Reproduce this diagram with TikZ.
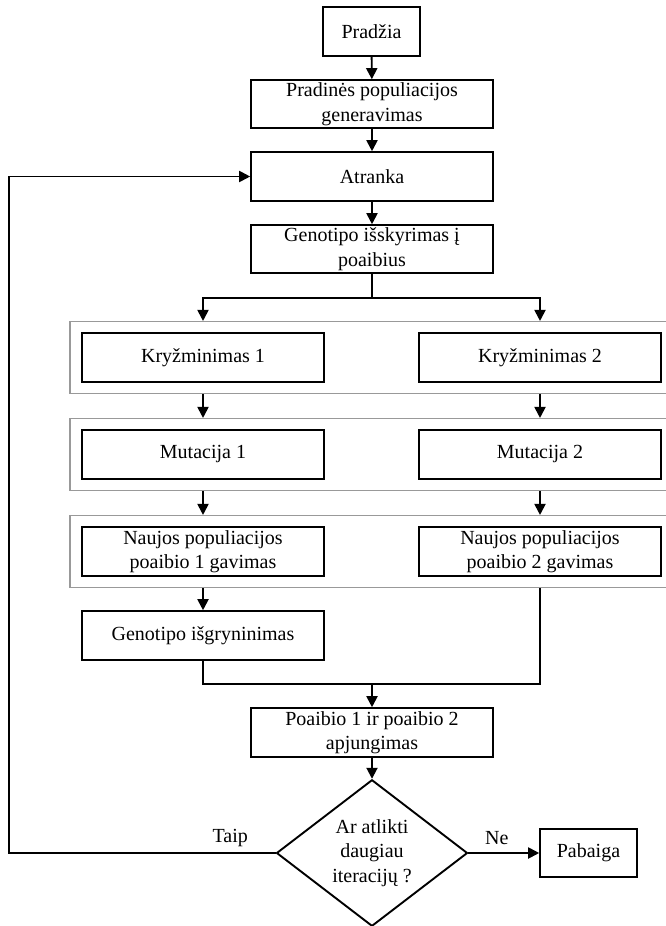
\documentclass[tikz,border=0pt]{standalone}
\usepackage{fontspec}
\setmainfont{Liberation Serif}
\usetikzlibrary{calc,shapes,positioning,arrows.meta}

\begin{document}
\begin{tikzpicture}[x=1pt, y=-1pt,
       >={Triangle[length=11pt,width=11pt]}, line width=1.9pt, rounded corners=0pt,
       every node/.style={font=\fontsize{20}{24.5}\selectfont, inner sep=0pt},
       block/.style 2 args = {rectangle, draw, line width=1.6pt,
                              minimum width=#1, minimum height=#2, align=center},
       stage/.style = {rectangle, draw=black!40, line width=1.1pt,
                       minimum width=612pt, minimum height=72pt},
       question/.style = {diamond, draw, line width=1.9pt, align=center,
                          minimum width=191pt, minimum height=144pt}]
	\useasboundingbox (0,0) rectangle (666,926);

	%% Main column
	\node [block={97pt}{49pt}] (start) at (371.5,31.5) {Pradžia};
	\node [block={242pt}{48pt}] (init) at (372,104) {Pradinės populiacijos\\generavimas};
	\node [block={242pt}{49pt}] (select) at (372,176.5) {Atranka};
	\node [block={242pt}{48pt}] (split) at (372,249) {Genotipo išskyrimas į\\poaibius};

	%% Two parallel branches, each row inside a grey frame
	\foreach [count=\i] \y/\ta/\tb in {357.5/Kryžminimas 1/Kryžminimas 2,
	                                   454.5/Mutacija 1/Mutacija 2,
	                                   551.5/{Naujos populiacijos\\poaibio 1 gavimas}/{Naujos populiacijos\\poaibio 2 gavimas}}
		{\node [stage] (g\i) at (376,\y) {};
		 \node [block={242pt}{49pt}] (l\i) at (203,\y) {\ta};
		 \node [block={242pt}{49pt}] (r\i) at (540,\y) {\tb};}

	\node [block={242pt}{49pt}] (pure) at (203,635.5) {Genotipo išgryninimas};
	\node [block={242pt}{49pt}] (merge) at (372,732.5) {Poaibio 1 ir poaibio 2\\apjungimas};
	\node [question] (test) at (372,853) {Ar atlikti\\daugiau\\iteracijų ?};
	\node [block={97pt}{48pt}] (stop) at (588.5,853) {Pabaiga};

	%% Connectors
	\draw[->] (start) -- (init);
	\draw[->] (init) -- (select);
	\draw[->] (select) -- (split);
	\draw (split.south) -- ++(0,24) coordinate (fork);
	\draw[->] (fork) -| (l1 |- g1.north);
	\draw[->] (fork) -| (r1 |- g1.north);
	\foreach \i/\j in {1/2,2/3}
		{\draw[->] (l\i |- g\i.south) -- (l\j |- g\j.north);
		 \draw[->] (r\i |- g\i.south) -- (r\j |- g\j.north);}
	\draw[->] (l3 |- g3.south) -- (pure);
	\coordinate (join) at (372,684);
	\draw (pure.south) |- (join) -| (r3 |- g3.south);
	\draw[->] (join) -- (merge);
	\draw[->] (merge) -- (test);
	\draw[->] (test) -- node[above=7pt, pos=0.4] (no) {Ne} (stop);
	\draw[->] (test.west) -- node[above=5pt, pos=0.17] (yes) {Taip} ++(-267,0)
	      coordinate (back) |- (select.west);
\end{tikzpicture}
\end{document}
